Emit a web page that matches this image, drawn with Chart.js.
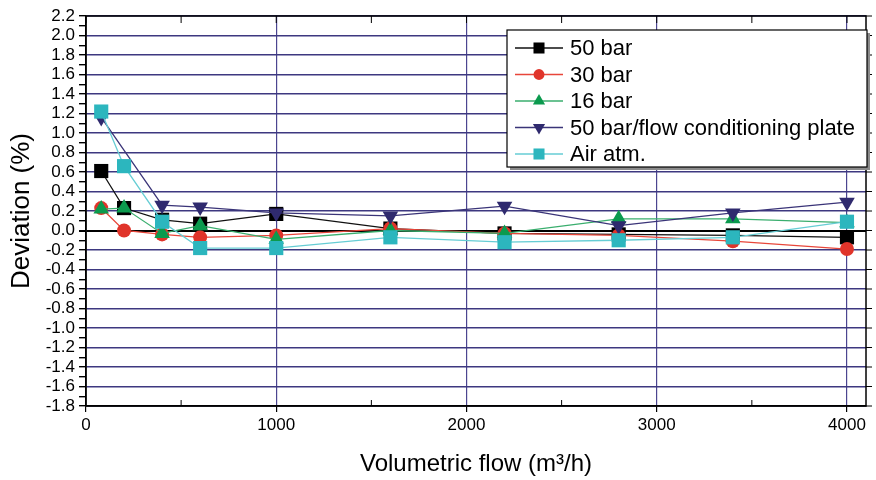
<!DOCTYPE html>
<html>
<head>
<meta charset="utf-8">
<script src="https://cdn.jsdelivr.net/npm/chart.js@4.4.1/dist/chart.umd.min.js"></script>
<style>
  html, body { margin: 0; padding: 0; background: #fff; }
  #wrap { width: 876px; height: 480px; }
</style>
</head>
<body>
<div id="wrap"><canvas id="devChart" width="876" height="480"></canvas></div>
<script>
// Flow points (m3/h) and deviations (%)
const flow = [80, 200, 400, 600, 1000, 1600, 2200, 2800, 3400, 4000];
const plateFlow = [80, 400, 600, 1000, 1600, 2200, 2800, 3400, 4000];

const bar50 = [0.61, 0.23, 0.11, 0.07, 0.17, 0.02, -0.03, -0.04, -0.05, -0.07];
const bar30 = [0.23, 0.00, -0.04, -0.07, -0.05, 0.02, -0.03, -0.05, -0.11, -0.19];
const bar16 = [0.22, 0.23, -0.03, 0.05, -0.09, 0.00, -0.03, 0.12, 0.12, 0.08];
const bar50Plate = [1.16, 0.26, 0.24, 0.18, 0.15, 0.25, 0.05, 0.18, 0.29];
const airAtm = [1.22, 0.66, 0.09, -0.18, -0.18, -0.07, -0.12, -0.10, -0.07, 0.09];

const seriesLabels = ['50 bar', '30 bar', '16 bar', '50 bar/flow conditioning plate', 'Air atm.'];

const flowTicks = [0, 1000, 2000, 3000, 4000];
const flowMinorTicks = [500, 1500, 2500, 3500];

const FONT = "'Liberation Sans', Arial, sans-serif";
const GRID = '#3d3880';

function toPoints(xs, ys) {
  return xs.map((x, i) => ({ x: x, y: ys[i] }));
}

function series(label, xs, ys, opts) {
  return Object.assign({
    label: label,
    data: toPoints(xs, ys),
    showLine: true,
    borderWidth: 1.3,
    pointBorderWidth: 0,
    pointHoverRadius: 0
  }, opts);
}

// frame, extra ticks and the legend inside the plot
const framePlugin = {
  id: 'framePlugin',
  afterDraw(chart) {
    const { ctx, chartArea: a, scales: { x, y } } = chart;
    ctx.save();

    ctx.strokeStyle = '#000';
    ctx.lineWidth = 1;
    ctx.beginPath();
    // minor ticks on the bottom edge, pointing up
    flowMinorTicks.forEach((v) => {
      const px = x.getPixelForValue(v);
      ctx.moveTo(px, a.bottom);
      ctx.lineTo(px, a.bottom - 6);
    });
    // ticks on the top edge
    flowTicks.concat(flowMinorTicks).forEach((v) => {
      const px = x.getPixelForValue(v);
      ctx.moveTo(px, a.top);
      ctx.lineTo(px, a.top + 7);
    });
    // ticks on the right edge
    for (let k = -18; k <= 22; k += 2) {
      const py = y.getPixelForValue(k / 10);
      ctx.moveTo(a.right, py);
      ctx.lineTo(a.right + 6, py);
    }
    ctx.stroke();

    ctx.lineWidth = 1.5;
    ctx.strokeRect(a.left, a.top, a.right - a.left, a.bottom - a.top);

    // legend box with a small drop shadow
    const bx = 507, by = 30, bw = 360, bh = 137;
    ctx.fillStyle = '#8a8a8a';
    ctx.fillRect(bx + 3, by + 3, bw, bh);
    ctx.fillStyle = '#fff';
    ctx.fillRect(bx, by, bw, bh);
    ctx.lineWidth = 1.2;
    ctx.strokeStyle = '#000';
    ctx.strokeRect(bx, by, bw, bh);

    ctx.font = '22px ' + FONT;
    ctx.textBaseline = 'middle';
    chart.data.datasets.forEach((ds, i) => {
      const cy = by + 18 + i * 26.5;
      ctx.strokeStyle = ds.borderColor;
      ctx.lineWidth = ds.borderWidth;
      ctx.beginPath();
      ctx.moveTo(bx + 8, cy);
      ctx.lineTo(bx + 56, cy);
      ctx.stroke();
      ctx.fillStyle = ds.pointBackgroundColor;
      Chart.helpers.drawPoint(ctx, {
        pointStyle: ds.pointStyle,
        rotation: ds.pointRotation || 0,
        radius: ds.pointRadius * 0.78,
        borderWidth: 0
      }, bx + 32, cy);
      ctx.fillStyle = '#000';
      ctx.fillText(ds.label, bx + 63, cy + 1);
    });

    ctx.restore();
  }
};

const ctx = document.getElementById('devChart').getContext('2d');

new Chart(ctx, {
  type: 'scatter',
  data: {
    datasets: [
      series(seriesLabels[0], flow, bar50, {
        borderColor: '#111', pointBackgroundColor: '#000',
        pointStyle: 'rect', pointRadius: 10, order: 5
      }),
      series(seriesLabels[1], flow, bar30, {
        borderColor: '#e8463a', pointBackgroundColor: '#e0342a',
        pointStyle: 'circle', pointRadius: 7, order: 4
      }),
      series(seriesLabels[2], flow, bar16, {
        borderColor: '#3aae6e', pointBackgroundColor: '#0b9a4e',
        pointStyle: 'triangle', pointRadius: 9, order: 3
      }),
      series(seriesLabels[3], plateFlow, bar50Plate, {
        borderColor: '#3a3478', pointBackgroundColor: '#2f2a6e',
        pointStyle: 'triangle', pointRotation: 180, pointRadius: 9, order: 2
      }),
      series(seriesLabels[4], flow, airAtm, {
        borderColor: '#66cdd4', pointBackgroundColor: '#2cb6be',
        pointStyle: 'rect', pointRadius: 10, order: 1
      })
    ]
  },
  options: {
    responsive: false,
    animation: false,
    devicePixelRatio: 1,
    layout: { padding: { top: 16, right: 10, left: 0, bottom: 0 } },
    plugins: {
      legend: { display: false },
      tooltip: { enabled: false }
    },
    scales: {
      x: {
        type: 'linear',
        min: 0,
        max: 4100,
        afterBuildTicks: (scale) => {
          scale.ticks = flowTicks.map((v) => ({ value: v }));
        },
        afterFit: (scale) => { scale.height = 74; },
        border: { display: true, color: '#000', width: 1.5 },
        grid: {
          color: (c) => (c.tick && c.tick.value > 0) ? '#4b4590' : 'rgba(0,0,0,0)',
          lineWidth: 1.2,
          tickColor: '#000',
          tickLength: 6
        },
        ticks: {
          maxRotation: 0,
          autoSkip: false,
          padding: 3,
          color: '#000',
          font: { family: FONT, size: 17 },
          callback: (v) => String(v)
        },
        title: {
          display: true,
          text: 'Volumetric flow (m\u00b3/h)',
          color: '#000',
          font: { family: FONT, size: 24 },
          padding: { top: 0, bottom: 1 }
        }
      },
      y: {
        min: -1.8,
        max: 2.2,
        afterFit: (scale) => { scale.width = 86; },
        border: { display: true, color: '#000', width: 1.5 },
        grid: {
          color: (c) => {
            const k = Math.round(c.tick.value * 10);
            if (k === 0) return '#000';
            return k % 2 === 0 ? GRID : 'rgba(0,0,0,0)';
          },
          lineWidth: (c) => (Math.round(c.tick.value * 10) === 0 ? 2 : 1.4),
          tickColor: '#000',
          tickLength: 7
        },
        ticks: {
          stepSize: 0.1,
          padding: 4,
          color: '#000',
          font: { family: FONT, size: 17 },
          autoSkip: false,
          callback: (v) => {
            const k = Math.round(v * 10);
            if (k % 2 !== 0) return '';
            return k === 0 ? '0.0' : (k / 10).toFixed(1);
          }
        },
        title: {
          display: true,
          text: 'Deviation (%)',
          color: '#000',
          font: { family: FONT, size: 26 },
          padding: { top: 6, bottom: 0 }
        }
      }
    }
  },
  plugins: [framePlugin]
});
</script>
</body>
</html>
